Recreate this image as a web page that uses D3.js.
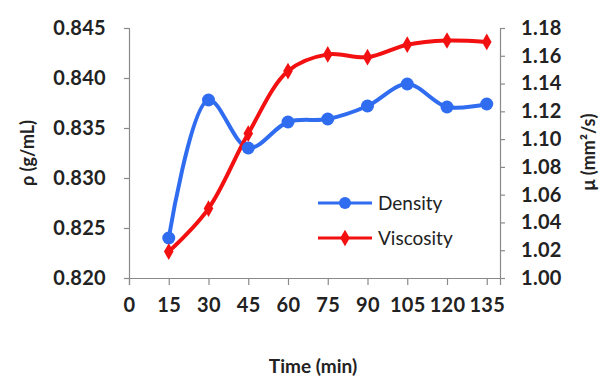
<!DOCTYPE html>
<html>
<head>
<meta charset="utf-8">
<script src="https://cdn.jsdelivr.net/npm/d3@7/dist/d3.min.js"></script>
<style>
  body { margin: 0; background: #fff; }
  text { font-family: Lato, "Open Sans", sans-serif; font-weight: bold; fill: #222; }
</style>
</head>
<body>
<div id="chart"></div>
<script>
// datos
const times = [15, 30, 45, 60, 75, 90, 105, 120, 135]
const density = [0.8240, 0.8378, 0.8330, 0.8356, 0.8359, 0.8372, 0.8394, 0.8371, 0.8374]
const viscosity = [1.019, 1.050, 1.104, 1.149, 1.161, 1.159, 1.168, 1.171, 1.170]
const xTicks = [0, 15, 30, 45, 60, 75, 90, 105, 120, 135]
const leftTicks = [0.820, 0.825, 0.830, 0.835, 0.840, 0.845]
const rightTicks = [1.00, 1.02, 1.04, 1.06, 1.08, 1.10, 1.12, 1.14, 1.16, 1.18]

const width = 610, height = 376
const margin = {top: 28, right: 110, bottom: 98, left: 129}

const svg = d3.select('#chart').append('svg')
    .attr('width', width)
    .attr('height', height)

const x = d3.scaleLinear().domain([0, 140]).range([margin.left, width - margin.right])
const yL = d3.scaleLinear().domain([0.820, 0.845]).range([height - margin.bottom, margin.top])
const yR = d3.scaleLinear().domain([1.00, 1.18]).range([height - margin.bottom, margin.top])

const axisColor = '#8a8a8a'

// eje X
const gx = svg.append('g')
    .attr('transform', `translate(0,${height - margin.bottom})`)
    .call(d3.axisBottom(x).tickValues(xTicks).tickSize(7).tickPadding(13).tickFormat(d3.format('d')))
gx.selectAll('text').style('font-size', '20px').style('letter-spacing', '0.3px')

// eje izquierdo
const gl = svg.append('g')
    .attr('transform', `translate(${margin.left},0)`)
    .call(d3.axisLeft(yL).tickValues(leftTicks).tickSize(5).tickPadding(18).tickFormat(d3.format('.3f')))
gl.selectAll('text').style('font-size', '20px').style('letter-spacing', '0.3px')

// eje derecho
const gr = svg.append('g')
    .attr('transform', `translate(${width - margin.right},0)`)
    .call(d3.axisRight(yR).tickValues(rightTicks).tickSize(5).tickPadding(16).tickFormat(d3.format('.2f')))
gr.selectAll('text').style('font-size', '20px').style('letter-spacing', '0.3px')

svg.selectAll('.domain, .tick line').attr('stroke', axisColor).attr('stroke-width', 1.2)

// títulos de ejes
svg.append('text')
    .attr('transform', 'translate(34,153) rotate(-90)')
    .attr('text-anchor', 'middle')
    .style('font-size', '18px')
    .text('ρ (g/mL)')

svg.append('text')
    .attr('transform', 'translate(595,152) rotate(-90)')
    .attr('text-anchor', 'middle')
    .style('font-size', '18px')
    .text('μ (mm²/s)')

svg.append('text')
    .attr('x', 313)
    .attr('y', 373)
    .attr('text-anchor', 'middle')
    .style('font-size', '19px')
    .text('Time (min)')

const blue = '#2f6cf0'
const red = '#f21010'

const lineL = d3.line().x((d, i) => x(times[i])).y(d => yL(d)).curve(d3.curveCatmullRom.alpha(0.5))
const lineR = d3.line().x((d, i) => x(times[i])).y(d => yR(d)).curve(d3.curveCatmullRom.alpha(0.5))

svg.append('path').datum(density)
    .attr('d', lineL).attr('fill', 'none').attr('stroke', blue).attr('stroke-width', 4)

svg.append('path').datum(viscosity)
    .attr('d', lineR).attr('fill', 'none').attr('stroke', red).attr('stroke-width', 4)

svg.selectAll('.dot').data(density).enter().append('circle')
    .attr('cx', (d, i) => x(times[i]))
    .attr('cy', d => yL(d))
    .attr('r', 6.5)
    .attr('fill', blue)

const diamond = d3.symbol().type(d3.symbolDiamond).size(80)
svg.selectAll('.dia').data(viscosity).enter().append('path')
    .attr('d', diamond)
    .attr('transform', (d, i) => `translate(${x(times[i])},${yR(d)})`)
    .attr('fill', red)

// leyenda
const legend = [
    {name: 'Density', color: blue, y: 203, shape: 'circle'},
    {name: 'Viscosity', color: red, y: 238, shape: 'diamond'},
]
const lg = svg.append('g')
legend.forEach(item => {
    lg.append('line')
        .attr('x1', 318).attr('x2', 372)
        .attr('y1', item.y).attr('y2', item.y)
        .attr('stroke', item.color).attr('stroke-width', 3)
    if (item.shape === 'circle') {
        lg.append('circle').attr('cx', 345).attr('cy', item.y).attr('r', 6).attr('fill', item.color)
    } else {
        lg.append('path').attr('d', diamond).attr('transform', `translate(345,${item.y})`).attr('fill', item.color)
    }
    lg.append('text')
        .attr('x', 378).attr('y', item.y + 7)
        .style('font-size', '19px')
        .style('font-weight', 'normal')
        .text(item.name)
})
</script>
</body>
</html>
